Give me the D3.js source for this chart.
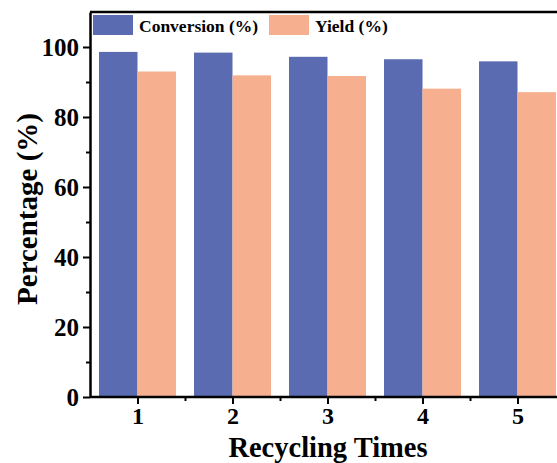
<!DOCTYPE html>
<html>
<head>
<meta charset="utf-8">
<script src="https://cdn.jsdelivr.net/npm/d3@7"></script>
<style>
  html, body { margin: 0; padding: 0; background: #fff; }
  svg { display: block; }
  text { font-family: "Liberation Serif", "Times New Roman", serif; font-weight: bold; fill: #000; }
</style>
</head>
<body>
<svg id="chart" width="557" height="463"></svg>
<script>
const categories = [1, 2, 3, 4, 5];
const conversion = [98.6, 98.4, 97.2, 96.5, 95.9];
const yieldVals = [93.0, 91.9, 91.7, 88.1, 87.1];
const seriesNames = ["Conversion (%)", "Yield (%)"];
const yTicks = [0, 20, 40, 60, 80, 100];
const yMinorTicks = [10, 30, 50, 70, 90];
const xMinorTicks = [1.5, 2.5, 3.5, 4.5];
const colors = ["#5a6bb2", "#f6b08f"];

(function () {
const svg = d3.select("#chart");
const W = 557, H = 463;
const mLeft = 90, mTop = 12, mBottom = 397;

const x = d3.scaleLinear().domain([0.5, 5.5]).range([mLeft, mLeft + 5 * 95]);
const y = d3.scaleLinear().domain([0, 110]).range([mBottom, mTop]);

const barW = 38.5;
const series = [conversion, yieldVals];

// bars
series.forEach((vals, si) => {
  svg.append("g").selectAll("rect")
    .data(categories)
    .join("rect")
    .attr("x", (d, i) => x(d) - barW + si * barW)
    .attr("width", barW)
    .attr("y", (d, i) => y(vals[i]))
    .attr("height", (d, i) => y(0) - y(vals[i]))
    .attr("fill", colors[si]);
});

// frame top line
svg.append("line")
  .attr("x1", mLeft).attr("x2", W + 10)
  .attr("y1", y(110)).attr("y2", y(110))
  .attr("stroke", "#000").attr("stroke-width", 2.5);

// y axis
const yAxis = svg.append("g").attr("transform", `translate(${mLeft},0)`)
  .call(d3.axisLeft(y).tickValues(yTicks).tickSize(7).tickPadding(4).tickSizeOuter(0));
svg.append("g").attr("transform", `translate(${mLeft},0)`)
  .call(d3.axisLeft(y).tickValues(yMinorTicks).tickSize(4).tickFormat("").tickSizeOuter(0))
  .select(".domain").remove();

// x axis
const xAxis = svg.append("g").attr("transform", `translate(0,${mBottom})`)
  .call(d3.axisBottom(x).tickValues(categories).tickSize(7).tickPadding(3).tickSizeOuter(0).tickFormat(d3.format("d")));
svg.append("g").attr("transform", `translate(0,${mBottom})`)
  .call(d3.axisBottom(x).tickValues(xMinorTicks).tickSize(4).tickFormat("").tickSizeOuter(0))
  .select(".domain").remove();

svg.selectAll(".domain").attr("stroke", "#000").attr("stroke-width", 2.5);
svg.selectAll(".tick line").attr("stroke", "#000").attr("stroke-width", 2);
yAxis.selectAll(".tick text")
  .style("font-family", "'Liberation Serif', serif").style("font-weight", "bold")
  .style("font-size", "25px").attr("fill", "#000").attr("dy", "0.34em");
xAxis.selectAll(".tick text")
  .style("font-family", "'Liberation Serif', serif").style("font-weight", "bold")
  .style("font-size", "24px").attr("fill", "#000");

// extend x domain to right edge
xAxis.select(".domain").attr("d", `M${mLeft},0H${W + 10}`);

// axis titles
svg.append("text")
  .attr("x", 328).attr("y", 456.5)
  .attr("text-anchor", "middle")
  .style("font-size", "28.5px")
  .text("Recycling Times");

svg.append("text")
  .attr("transform", `translate(37,209) rotate(-90)`)
  .attr("text-anchor", "middle")
  .style("font-size", "29px")
  .text("Percentage (%)");

// legend
const legendItems = [
  { name: seriesNames[0], color: colors[0], sx: 93, tx: 139 },
  { name: seriesNames[1], color: colors[1], sx: 269, tx: 315 }
];
legendItems.forEach(it => {
  svg.append("rect").attr("x", it.sx).attr("y", 15).attr("width", 40).attr("height", 20).attr("fill", it.color);
  svg.append("text").attr("x", it.tx).attr("y", 32).style("font-size", "17.5px").text(it.name);
});
})();
</script>
</body>
</html>
